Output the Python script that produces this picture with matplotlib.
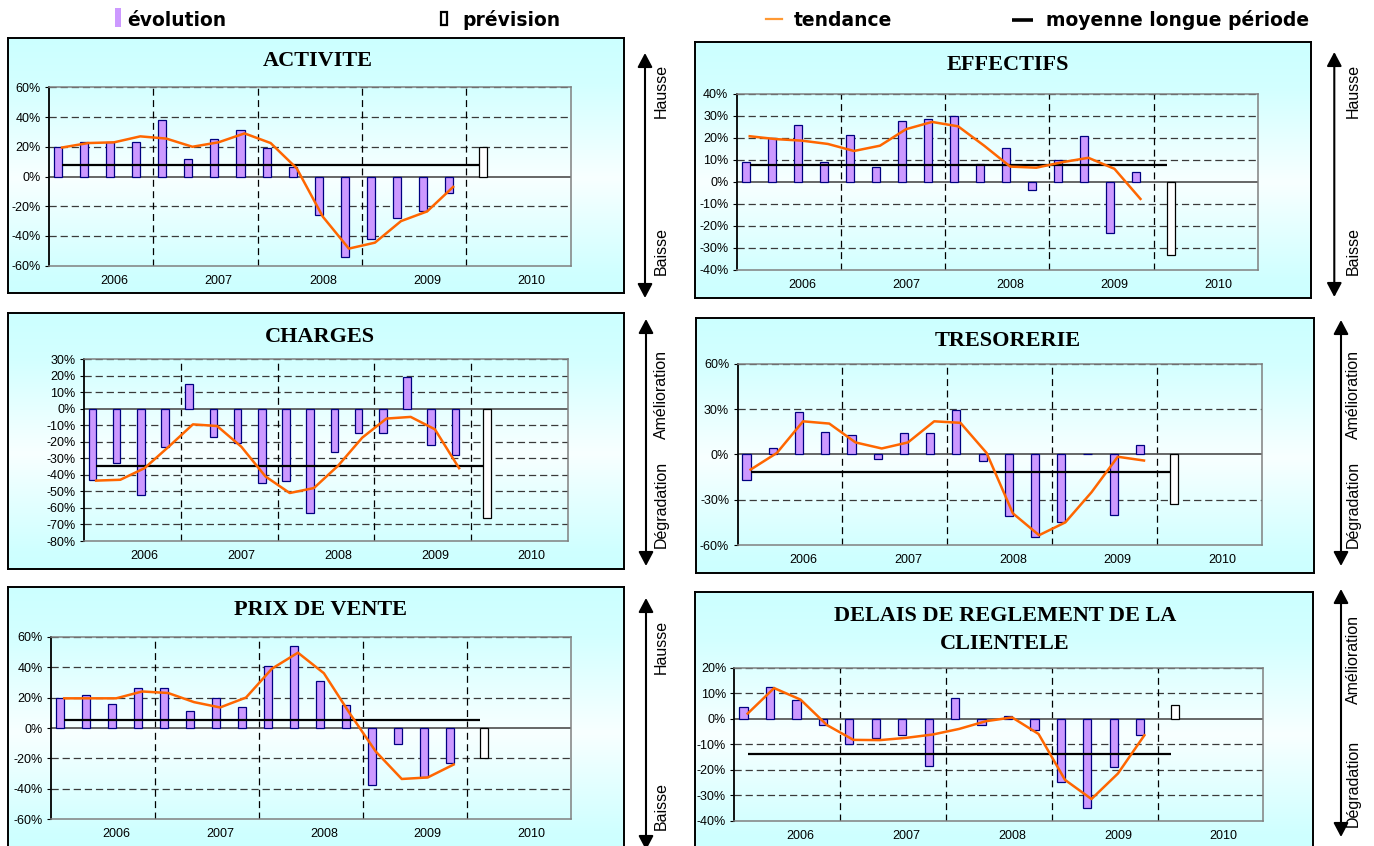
import numpy as np
import matplotlib
matplotlib.use("Agg")
import matplotlib.pyplot as plt
from matplotlib.patches import Rectangle, FancyArrowPatch
from matplotlib.lines import Line2D
from matplotlib.colors import LinearSegmentedColormap

plt.rcParams["lines.scale_dashes"] = False

W, H = 1374, 846

# ---------------- data (quarterly balances, %) ----------------
years = ["2006", "2007", "2008", "2009", "2010"]

activite_evolution = [20, 23, 23, 23, 38, 12, 25, 31, 19, 6.5, -26, -54, -42, -28, -23, -11]
activite_prevision = 20
activite_tendance = [19.5, 22.5, 23, 27, 25.5, 20, 23, 29, 22.5, 5.5, -27, -48.5, -44.5, -30, -23.5, -7]
activite_moyenne = 7.5

effectifs_evolution = [9, 20, 26, 9, 21.5, 7, 27.5, 28.5, 30, 8, 15.5, -3.5, 10, 21, -23, 4.5]
effectifs_prevision = -33
effectifs_tendance = [20.8, 19.5, 18.8, 17.3, 14.1, 16.5, 24, 27.3, 25.3, 16.5, 7, 6.5, 9, 11, 6, -7.7]
effectifs_moyenne = 7.5

charges_evolution = [-43, -33, -52, -23, 15, -17, -21, -45, -44, -63, -26, -14.5, -15, 19, -22, -28]
charges_prevision = -66
charges_tendance = [-43.5, -43, -36, -23, -9.5, -10.5, -23, -41, -51, -48, -34.5, -17.5, -6, -5, -12.5, -36]
charges_moyenne = -34.5

tresorerie_evolution = [-17, 4, 28.5, 15, 13, -3, 14.5, 14.5, 29.5, -4, -41, -55, -44.5, 0.5, -40, 6]
tresorerie_prevision = -32.5
tresorerie_tendance = [-10, 1, 22, 20.5, 8, 4, 8, 22, 21, 1, -39, -53.5, -45, -25, -1.5, -4]
tresorerie_moyenne = -11.5

prix_evolution = [19.5, 21.5, 15.5, 26, 26, 11, 19.5, 13.5, 40.5, 54, 31, 15, -37.5, -10.5, -32, -23]
prix_prevision = -19.5
prix_tendance = [19.5, 19.5, 19.5, 24, 23, 17, 13.5, 20, 39, 49.5, 36, 9.5, -15.5, -33.5, -32.5, -24]
prix_moyenne = 5

delais_evolution = [4.5, 12.5, 7.5, -2.5, -10, -7.5, -6.5, -18.5, 8, -2.5, 1, -4.5, -25, -35, -19, -6.5]
delais_prevision = 5.5
delais_tendance = [2, 12, 7.5, -2.5, -8.3, -8.4, -7.5, -6.2, -4, -1, 0.5, -6, -24, -31.5, -21.5, -6.5]
delais_moyenne = -14

# ---------------- style ----------------
LAVENDER = "#CC99FF"
NAVY = "#000080"
ORANGE = "#FF6600"
SANS = "Liberation Sans"
SERIF = "Liberation Serif"
BAR_W = 0.31

fig = plt.figure(figsize=(W / 100, H / 100), dpi=100)


def rect_px(x0, y0, x1, y1):
    return [x0 / W, 1 - y1 / H, (x1 - x0) / W, (y1 - y0) / H]


def pt(x, y):
    return (x / W, 1 - y / H)


bg_cmap = LinearSegmentedColormap.from_list(
    "panel_bg",
    [(0.0, "#CCFFFF"), (0.18, "#D3FFFF"), (0.55, "#F8FFFF"), (0.93, "#CFFFFF"), (1.0, "#CCFFFF")],
)


def draw_panel(layout, titles, ylim, yticks, evolution, prevision, tendance, moyenne, side_labels):
    bx0, by0, bx1, by1 = layout["box"]
    bg = fig.add_axes(rect_px(bx0, by0, bx1, by1))
    grad = np.linspace(0, 1, 256).reshape(-1, 1)
    bg.imshow(grad, aspect="auto", cmap=bg_cmap, extent=[0, 1, 0, 1], origin="upper")
    bg.set_xlim(0, 1)
    bg.set_ylim(0, 1)
    bg.set_xticks([])
    bg.set_yticks([])
    for s in bg.spines.values():
        s.set_linewidth(1.4)
        s.set_color("black")

    ax = fig.add_axes(rect_px(*layout["plot"]))
    ax.set_facecolor("none")
    n = len(evolution)
    idx = np.arange(n)
    ax.set_xlim(-0.5, 19.5)
    ax.set_ylim(*ylim)

    # grid
    for v in yticks:
        if v != 0 and v != ylim[0]:
            ax.axhline(v, color="#3a3a3a", lw=0.9, ls=(0, (5.2, 2.8)), zorder=1)
    for k in range(1, 5):
        ax.axvline(4 * k - 0.5, color="black", lw=0.9, ls=(0, (5.0, 3.2)), zorder=1)
    ax.axhline(0, color="#5a5a5a", lw=1.3, zorder=2)

    # bars
    ax.bar(idx - BAR_W, evolution, width=BAR_W, align="edge",
           color=LAVENDER, edgecolor=NAVY, linewidth=0.9, zorder=3)
    ax.bar([n], [prevision], width=BAR_W, align="edge",
           color="white", edgecolor="black", linewidth=0.9, zorder=3)

    # long-period mean and trend
    xm = np.arange(n + 1)
    ax.plot(xm, np.full(len(xm), moyenne), color="black", lw=1.6, zorder=4,
            solid_capstyle="butt")
    ax.plot(idx, tendance, color=ORANGE, lw=1.8, zorder=5)

    # axes styling
    for name, s in ax.spines.items():
        s.set_color("black" if name == "left" else "#808080")
        s.set_linewidth(1.3 if name == "left" else 1.1)
    ax.set_yticks(yticks)
    ax.set_yticklabels([f"{v}%" for v in yticks], fontsize=9, family=SANS)
    ax.tick_params(axis="y", length=3, width=0.8, pad=3, direction="out")
    ax.set_xticks([2, 6, 10, 14, 18])
    ax.set_xticklabels(years, fontsize=9, family=SANS)
    ax.tick_params(axis="x", length=0, pad=6.6)

    # title
    for t, ty in zip(titles, layout["title_y"]):
        fig.text(*pt(layout["title_x"], ty), t, ha="center", va="baseline",
                 fontsize=16, fontweight="bold", family=SERIF)

    # side arrow and labels
    ax0, ay0, ay1 = layout["arrow"]
    arr = FancyArrowPatch(pt(ax0, ay0), pt(ax0, ay1), transform=fig.transFigure,
                          arrowstyle="<|-|>,head_length=0.85,head_width=0.45",
                          mutation_scale=10, lw=1.5, color="black",
                          shrinkA=0, shrinkB=0)
    fig.add_artist(arr)
    for lab, ly in zip(side_labels, layout["side_y"]):
        fig.text(*pt(layout["side_x"], ly), lab, rotation=90, ha="center", va="center",
                 fontsize=11.5, family=SANS)


panels = [
    dict(layout=dict(box=(8, 38.3, 624, 293.3), plot=(49, 87.3, 570.5, 265.7),
                     title_x=318, title_y=[66], arrow=(645, 53, 298),
                     side_x=661, side_y=[91, 251]),
         titles=["ACTIVITE"], ylim=(-60, 60), yticks=list(range(-60, 61, 20)),
         data=(activite_evolution, activite_prevision, activite_tendance, activite_moyenne),
         side=["Hausse", "Baisse"]),
    dict(layout=dict(box=(694.6, 42.3, 1310.8, 297.7), plot=(736.7, 94, 1257.7, 270),
                     title_x=1008, title_y=[70], arrow=(1334.3, 52, 297),
                     side_x=1353, side_y=[91, 251]),
         titles=["EFFECTIFS"], ylim=(-40, 40), yticks=list(range(-40, 41, 10)),
         data=(effectifs_evolution, effectifs_prevision, effectifs_tendance, effectifs_moyenne),
         side=["Hausse", "Baisse"]),
    dict(layout=dict(box=(8, 312.7, 623.7, 569.3), plot=(84, 359, 568, 541),
                     title_x=320, title_y=[341.7], arrow=(646, 319, 566),
                     side_x=661, side_y=[394, 504.5]),
         titles=["CHARGES"], ylim=(-80, 30), yticks=list(range(-80, 31, 10)),
         data=(charges_evolution, charges_prevision, charges_tendance, charges_moyenne),
         side=["Amélioration", "Dégradation"]),
    dict(layout=dict(box=(695.5, 318.3, 1314, 573.3), plot=(737.5, 364, 1262, 545),
                     title_x=1007.6, title_y=[346], arrow=(1341, 320, 566),
                     side_x=1353, side_y=[394, 504.5]),
         titles=["TRESORERIE"], ylim=(-60, 60), yticks=list(range(-60, 61, 30)),
         data=(tresorerie_evolution, tresorerie_prevision, tresorerie_tendance, tresorerie_moyenne),
         side=["Amélioration", "Dégradation"]),
    dict(layout=dict(box=(8, 587.3, 624, 852), plot=(51.3, 636.7, 570.5, 819.3),
                     title_x=320, title_y=[615], arrow=(646, 598, 850),
                     side_x=661, side_y=[646.7, 806]),
         titles=["PRIX DE VENTE"], ylim=(-60, 60), yticks=list(range(-60, 61, 20)),
         data=(prix_evolution, prix_prevision, prix_tendance, prix_moyenne),
         side=["Hausse", "Baisse"]),
    dict(layout=dict(box=(694.6, 592.3, 1313, 852), plot=(734.4, 667.7, 1263.4, 820.7),
                     title_x=1005, title_y=[620.7, 649], arrow=(1341, 589, 837),
                     side_x=1353, side_y=[659, 783]),
         titles=["DELAIS DE REGLEMENT DE LA", "CLIENTELE"], ylim=(-40, 20),
         yticks=list(range(-40, 21, 10)),
         data=(delais_evolution, delais_prevision, delais_tendance, delais_moyenne),
         side=["Amélioration", "Dégradation"]),
]

for p in panels:
    evo, prev, tend, moy = p["data"]
    draw_panel(p["layout"], p["titles"], p["ylim"], p["yticks"], evo, prev, tend, moy, p["side"])

# ---------------- legend strip ----------------
LEG_FONT = dict(fontsize=13.5, fontweight="bold", family="DejaVu Sans", va="baseline", ha="left")
fig.add_artist(Rectangle(pt(115, 27.3), 5.5 / W, 19 / H, transform=fig.transFigure,
                         facecolor=LAVENDER, edgecolor="none"))
fig.text(*pt(127, 26), "évolution", **LEG_FONT)
fig.add_artist(Rectangle(pt(441, 25), 6 / W, 13 / H, transform=fig.transFigure,
                         facecolor="white", edgecolor="black", lw=1.6))
fig.text(*pt(462, 26), "prévision", **LEG_FONT)
fig.add_artist(Line2D([766 / W, 782 / W], [1 - 19 / H, 1 - 19 / H], transform=fig.transFigure,
                      color="#FF9933", lw=1.6))
fig.text(*pt(794, 26), "tendance", **LEG_FONT)
fig.add_artist(Line2D([1012 / W, 1033 / W], [1 - 20.5 / H, 1 - 20.5 / H], transform=fig.transFigure,
                      color="black", lw=2.6, solid_capstyle="butt"))
fig.text(*pt(1046.5, 26), "moyenne longue période", **LEG_FONT)

fig.savefig("out.png", dpi=100)
